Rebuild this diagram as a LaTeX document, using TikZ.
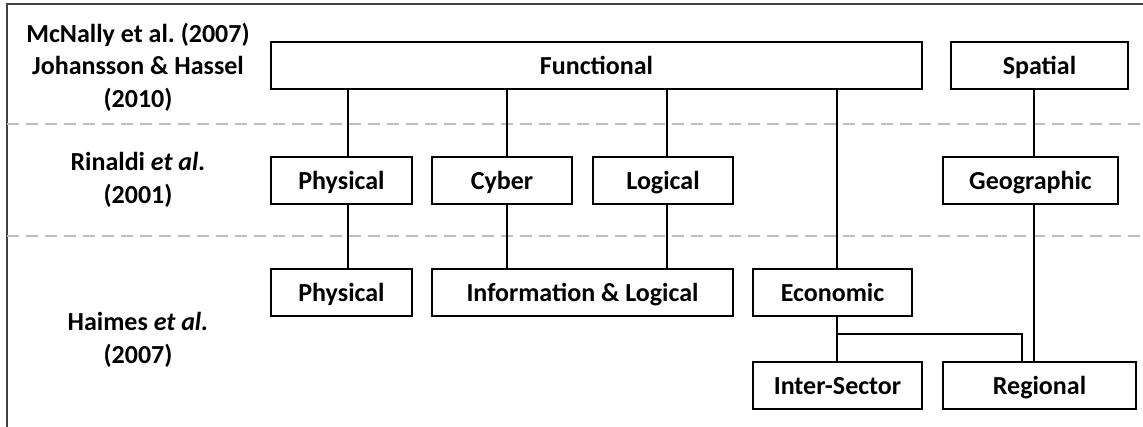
\documentclass[tikz,border=0pt]{standalone}
\usepackage{fontspec}
\setmainfont{Carlito}
\frenchspacing
\begin{document}
\begin{tikzpicture}[x=1pt,y=-1pt,
  box/.style={draw, line width=1.7pt, minimum height=47pt, inner sep=0pt, outer sep=0pt,
    text height=21pt, text depth=2pt,
    font=\bfseries\fontsize{26}{30}\selectfont},
  link/.style={line width=1.4pt},
  level/.style={draw=black!25, line width=1.6pt, dash pattern=on 12pt off 7pt},
  frame/.style={draw=black!75, line width=2pt},
  cite/.style={align=center, inner sep=0pt, font=\bfseries\fontsize{26}{32.5}\selectfont}]
\path[use as bounding box] (0,0) rectangle (1143,427);
% frame and level separators
\coordinate (ftr) at (1143,4);
\coordinate (ftl) at (7,4);
\coordinate (fbl) at (7,427);
\draw[frame] (ftr) -- (ftl) -- (fbl);
\coordinate (d1l) at (7,124);
\coordinate (d1r) at (1143,124);
\coordinate (d2l) at (7,236);
\coordinate (d2r) at (1143,236);
\draw[level] (d1l) -- (d1r);
\draw[level] (d2l) -- (d2r);
% citation labels
\node[cite] (lab1) at (138,67) {McNally et al. (2007)\\Johansson \& Hassel\\(2010)};
\node[cite] (lab2) at (138,180) {Rinaldi \textit{et al.}\\(2001)};
\node[cite] (lab3) at (138,340) {Haimes \textit{et al.}\\(2007)};
% boxes
\node[box, minimum width=651pt] (func) at (596.5,65.5) {Functional};
\node[box, minimum width=177pt] (spat) at (1039.5,65.5) {Spatial};
\node[box, minimum width=141pt] (phys1) at (341.5,180.5) {Physical};
\node[box, minimum width=140pt] (cyber) at (502,180.5) {Cyber};
\node[box, minimum width=140pt] (logic) at (663,180.5) {Logical};
\node[box, minimum width=175pt] (geo) at (1030.5,180.5) {Geographic};
\node[box, minimum width=141pt] (phys2) at (341.5,292.5) {Physical};
\node[box, minimum width=301pt] (info) at (582.5,292.5) {Information \& Logical};
\node[box, minimum width=159pt] (econ) at (832.5,292.5) {Economic};
\node[box, minimum width=169pt] (inter) at (837.5,385.5) {Inter-Sector};
\node[box, minimum width=193pt] (region) at (1039.5,385.5) {Regional};
% connector columns
\coordinate (c1) at (348,0);
\coordinate (c2) at (507,0);
\coordinate (c3) at (667,0);
\coordinate (c4) at (837,0);
\coordinate (c5) at (1034,0);
\coordinate (c6) at (1022,0);
\coordinate (jn) at (837,334);
% connectors
\draw[link] (c1 |- func.south) -- (c1 |- phys1.north);
\draw[link] (c1 |- phys1.south) -- (c1 |- phys2.north);
\draw[link] (c2 |- func.south) -- (c2 |- cyber.north);
\draw[link] (c2 |- cyber.south) -- (c2 |- info.north);
\draw[link] (c3 |- func.south) -- (c3 |- logic.north);
\draw[link] (c3 |- logic.south) -- (c3 |- info.north);
\draw[link] (c4 |- func.south) -- (c4 |- econ.north);
\draw[link] (c4 |- econ.south) -- (c4 |- inter.north);
\draw[link] (jn) -| (c6 |- region.north);
\draw[link] (c5 |- spat.south) -- (c5 |- geo.north);
\draw[link] (c5 |- geo.south) -- (c5 |- region.north);
\end{tikzpicture}
\end{document}
